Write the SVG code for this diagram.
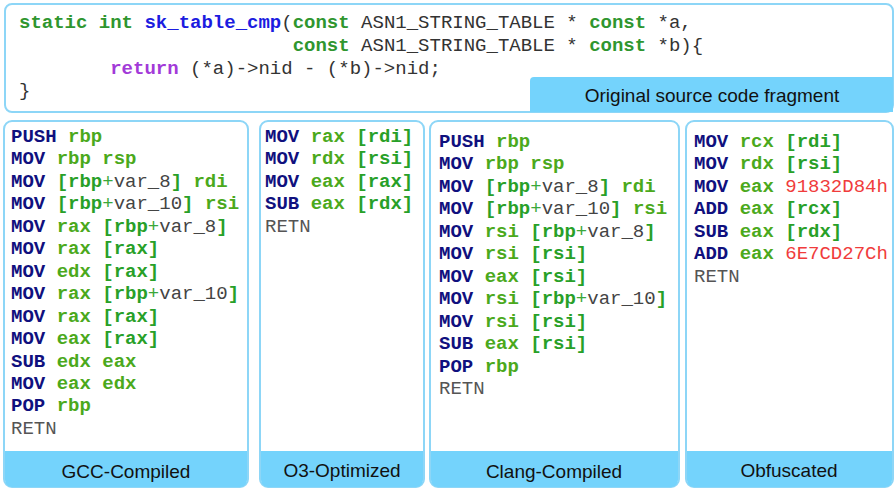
<svg xmlns="http://www.w3.org/2000/svg" width="895" height="489" viewBox="0 0 895 489">
<style>
.box{fill:#ffffff;stroke:#8dd6f7;stroke-width:2}
.band{fill:#74d3fc}
.lbl{font-family:"Liberation Sans",Arial,sans-serif;font-size:19px;fill:#111;text-anchor:middle}
.code{font-family:"Liberation Mono","Courier New",monospace;font-size:19px;white-space:pre}
.m{fill:#10107e;font-weight:bold}
.r{fill:#4ba91c;font-weight:bold}
.b{fill:#28a028;font-weight:bold}
.p{fill:#3aa83a}
.v{fill:#444444}
.h{fill:#f03c3c}
.t{fill:#555555}
.kw{fill:#2f962f;font-weight:bold}
.fn{fill:#1c1ce0;font-weight:bold}
.pl{fill:#333333}
.ret{fill:#a23ad8;font-weight:bold}
</style>
<g id="source">
<rect class="box" x="5" y="4" width="888" height="108" rx="7"/>
<path class="band" d="M534,77 H893 V112 H530 V81 A4,4 0 0 1 534,77 Z"/>
<text class="lbl" x="712" y="102">Original source code fragment</text>
<text class="code" xml:space="preserve" x="19" y="28"><tspan class="kw">static int </tspan><tspan class="fn">sk_table_cmp</tspan><tspan class="pl">(</tspan><tspan class="kw">const</tspan><tspan class="pl"> ASN1_STRING_TABLE * </tspan><tspan class="kw">const</tspan><tspan class="pl"> *a,</tspan></text>
<text class="code" xml:space="preserve" x="19" y="51"><tspan class="pl">                        </tspan><tspan class="kw">const</tspan><tspan class="pl"> ASN1_STRING_TABLE * </tspan><tspan class="kw">const</tspan><tspan class="pl"> *b){</tspan></text>
<text class="code" xml:space="preserve" x="19" y="73.5"><tspan class="pl">        </tspan><tspan class="ret">return</tspan><tspan class="pl"> (*a)-&gt;nid - (*b)-&gt;nid;</tspan></text>
<text class="code pl" xml:space="preserve" x="19" y="96">}</text>
</g>
<g id="gcc">
<rect class="box" x="4" y="121" width="244" height="366" rx="8"/>
<path class="band" d="M5,451 H247 V480 A7,7 0 0 1 240,487 H12 A7,7 0 0 1 5,480 Z"/>
<text class="lbl" x="126" y="478">GCC-Compiled</text>
<g class="code" xml:space="preserve">
<text x="11" y="142"><tspan class="m">PUSH</tspan> <tspan class="r">rbp</tspan></text>
<text x="11" y="164.45"><tspan class="m">MOV</tspan> <tspan class="r">rbp rsp</tspan></text>
<text x="11" y="186.9"><tspan class="m">MOV</tspan> <tspan class="b">[rbp</tspan><tspan class="p">+</tspan><tspan class="v">var_8</tspan><tspan class="b">]</tspan> <tspan class="r">rdi</tspan></text>
<text x="11" y="209.35"><tspan class="m">MOV</tspan> <tspan class="b">[rbp</tspan><tspan class="p">+</tspan><tspan class="v">var_10</tspan><tspan class="b">]</tspan> <tspan class="r">rsi</tspan></text>
<text x="11" y="231.8"><tspan class="m">MOV</tspan> <tspan class="r">rax</tspan> <tspan class="b">[rbp</tspan><tspan class="p">+</tspan><tspan class="v">var_8</tspan><tspan class="b">]</tspan></text>
<text x="11" y="254.25"><tspan class="m">MOV</tspan> <tspan class="r">rax</tspan> <tspan class="b">[rax]</tspan></text>
<text x="11" y="276.7"><tspan class="m">MOV</tspan> <tspan class="r">edx</tspan> <tspan class="b">[rax]</tspan></text>
<text x="11" y="299.15"><tspan class="m">MOV</tspan> <tspan class="r">rax</tspan> <tspan class="b">[rbp</tspan><tspan class="p">+</tspan><tspan class="v">var_10</tspan><tspan class="b">]</tspan></text>
<text x="11" y="321.6"><tspan class="m">MOV</tspan> <tspan class="r">rax</tspan> <tspan class="b">[rax]</tspan></text>
<text x="11" y="344.05"><tspan class="m">MOV</tspan> <tspan class="r">eax</tspan> <tspan class="b">[rax]</tspan></text>
<text x="11" y="366.5"><tspan class="m">SUB</tspan> <tspan class="r">edx eax</tspan></text>
<text x="11" y="388.95"><tspan class="m">MOV</tspan> <tspan class="r">eax edx</tspan></text>
<text x="11" y="411.4"><tspan class="m">POP</tspan> <tspan class="r">rbp</tspan></text>
<text x="11" y="433.85" class="t">RETN</text>
</g>
</g>
<g id="o3">
<rect class="box" x="260" y="121" width="164" height="366" rx="8"/>
<path class="band" d="M261,451 H423 V480 A7,7 0 0 1 416,487 H268 A7,7 0 0 1 261,480 Z"/>
<text class="lbl" x="342" y="477">O3-Optimized</text>
<g class="code" xml:space="preserve">
<text x="265" y="142"><tspan class="m">MOV</tspan> <tspan class="r">rax</tspan> <tspan class="b">[rdi]</tspan></text>
<text x="265" y="164.45"><tspan class="m">MOV</tspan> <tspan class="r">rdx</tspan> <tspan class="b">[rsi]</tspan></text>
<text x="265" y="186.9"><tspan class="m">MOV</tspan> <tspan class="r">eax</tspan> <tspan class="b">[rax]</tspan></text>
<text x="265" y="209.35"><tspan class="m">SUB</tspan> <tspan class="r">eax</tspan> <tspan class="b">[rdx]</tspan></text>
<text x="265" y="231.8" class="t">RETN</text>
</g>
</g>
<g id="clang">
<rect class="box" x="430" y="121" width="249" height="366" rx="8"/>
<path class="band" d="M431,451 H678 V480 A7,7 0 0 1 671,487 H438 A7,7 0 0 1 431,480 Z"/>
<text class="lbl" x="554" y="478">Clang-Compiled</text>
<g class="code" xml:space="preserve">
<text x="439" y="147"><tspan class="m">PUSH</tspan> <tspan class="r">rbp</tspan></text>
<text x="439" y="169.45"><tspan class="m">MOV</tspan> <tspan class="r">rbp rsp</tspan></text>
<text x="439" y="191.9"><tspan class="m">MOV</tspan> <tspan class="b">[rbp</tspan><tspan class="p">+</tspan><tspan class="v">var_8</tspan><tspan class="b">]</tspan> <tspan class="r">rdi</tspan></text>
<text x="439" y="214.35"><tspan class="m">MOV</tspan> <tspan class="b">[rbp</tspan><tspan class="p">+</tspan><tspan class="v">var_10</tspan><tspan class="b">]</tspan> <tspan class="r">rsi</tspan></text>
<text x="439" y="236.8"><tspan class="m">MOV</tspan> <tspan class="r">rsi</tspan> <tspan class="b">[rbp</tspan><tspan class="p">+</tspan><tspan class="v">var_8</tspan><tspan class="b">]</tspan></text>
<text x="439" y="259.25"><tspan class="m">MOV</tspan> <tspan class="r">rsi</tspan> <tspan class="b">[rsi]</tspan></text>
<text x="439" y="281.7"><tspan class="m">MOV</tspan> <tspan class="r">eax</tspan> <tspan class="b">[rsi]</tspan></text>
<text x="439" y="304.15"><tspan class="m">MOV</tspan> <tspan class="r">rsi</tspan> <tspan class="b">[rbp</tspan><tspan class="p">+</tspan><tspan class="v">var_10</tspan><tspan class="b">]</tspan></text>
<text x="439" y="326.6"><tspan class="m">MOV</tspan> <tspan class="r">rsi</tspan> <tspan class="b">[rsi]</tspan></text>
<text x="439" y="349.05"><tspan class="m">SUB</tspan> <tspan class="r">eax</tspan> <tspan class="b">[rsi]</tspan></text>
<text x="439" y="371.5"><tspan class="m">POP</tspan> <tspan class="r">rbp</tspan></text>
<text x="439" y="393.95" class="t">RETN</text>
</g>
</g>
<g id="obfuscated">
<rect class="box" x="686" y="121" width="207" height="366" rx="8"/>
<path class="band" d="M687,451 H892 V480 A7,7 0 0 1 885,487 H694 A7,7 0 0 1 687,480 Z"/>
<text class="lbl" x="789" y="477">Obfuscated</text>
<g class="code" xml:space="preserve">
<text x="694" y="147"><tspan class="m">MOV</tspan> <tspan class="r">rcx</tspan> <tspan class="b">[rdi]</tspan></text>
<text x="694" y="169.45"><tspan class="m">MOV</tspan> <tspan class="r">rdx</tspan> <tspan class="b">[rsi]</tspan></text>
<text x="694" y="191.9"><tspan class="m">MOV</tspan> <tspan class="r">eax</tspan> <tspan class="h">91832D84h</tspan></text>
<text x="694" y="214.35"><tspan class="m">ADD</tspan> <tspan class="r">eax</tspan> <tspan class="b">[rcx]</tspan></text>
<text x="694" y="236.8"><tspan class="m">SUB</tspan> <tspan class="r">eax</tspan> <tspan class="b">[rdx]</tspan></text>
<text x="694" y="259.25"><tspan class="m">ADD</tspan> <tspan class="r">eax</tspan> <tspan class="h">6E7CD27Ch</tspan></text>
<text x="694" y="281.7" class="t">RETN</text>
</g>
</g>
<g id="connectors"/>
</svg>
